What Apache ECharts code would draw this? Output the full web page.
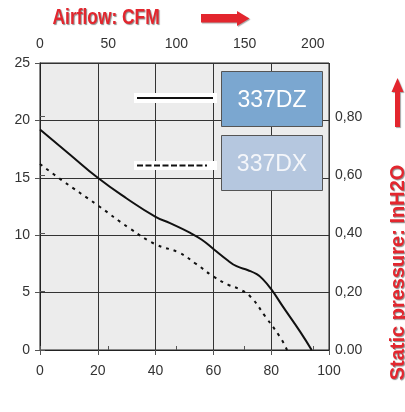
<!DOCTYPE html>
<html><head><meta charset="utf-8">
<script src="https://cdn.jsdelivr.net/npm/echarts@6/dist/echarts.min.js"></script>
<style>html,body{margin:0;padding:0;background:#fff}#c{width:405px;height:412px}</style>
</head><body><div id="c"></div>
<script>
// Bottom axis: airflow l/s ; left axis: mmH2O
const flowTicks = [0, 20, 40, 60, 80, 100];
const cfmTicks = [0, 50, 100, 150, 200];
const pressTicks = [0, 5, 10, 15, 20, 25];
const inH2OLabels = ['0.00', '0,20', '0,40', '0,60', '0,80'];
const seriesNames = ['337DZ', '337DX'];
const dzFlow = [0, 10, 20, 30, 40, 45, 52, 56, 60, 65, 68, 72, 75, 77, 80, 84, 90, 94];
const dzPress = [19.2, 17.1, 15.0, 13.2, 11.6, 11.05, 10.2, 9.6, 8.8, 7.8, 7.3, 6.95, 6.6, 6.2, 5.3, 3.8, 1.6, 0];
const dxFlow = [0, 7.5, 20, 31, 40, 48, 54, 60, 65, 69, 73, 78, 83, 85.5];
const dxPress = [16.2, 14.8, 12.6, 10.6, 9.2, 8.5, 7.5, 6.4, 5.7, 5.3, 4.6, 2.9, 1.15, 0];

const CFM_MAX = 211.9;   // 100 l/s
const INH2O_MAX = 0.984; // 25 mmH2O

const chart = echarts.init(document.getElementById('c'), null, {renderer: 'canvas'});
const lblFont = {color: '#333', fontSize: 14, fontFamily: 'Liberation Sans, Arial, sans-serif'};
const zip = (a, b) => a.map((v, i) => [v, b[i]]);
const red = '#e3262e';
const tshadow = {textShadowColor: 'rgba(0,0,0,0.45)', textShadowOffsetX: 1, textShadowOffsetY: 1, textShadowBlur: 1};

chart.setOption({
  animation: false,
  grid: {left: 40, top: 63, right: 76, bottom: 62, show: true, backgroundColor: '#ececec', borderColor: '#222', borderWidth: 1},
  xAxis: [
    {type: 'value', position: 'bottom', min: flowTicks[0], max: flowTicks[flowTicks.length - 1], interval: 20,
     axisLine: {show: true, lineStyle: {color: '#222', width: 1}},
     axisTick: {show: true, length: 5, lineStyle: {color: '#555'}},
     axisLabel: Object.assign({margin: 14}, lblFont),
     splitLine: {show: true, lineStyle: {color: '#333', width: 1}}},
    {type: 'value', position: 'top', min: 0, max: CFM_MAX, interval: 50,
     axisLine: {show: true, lineStyle: {color: '#222', width: 1}},
     axisTick: {show: true, length: 4, lineStyle: {color: '#555'}},
     axisLabel: Object.assign({margin: 12, showMaxLabel: false,
        formatter: v => cfmTicks.indexOf(v) >= 0 ? String(v) : ''}, lblFont),
     splitLine: {show: false}}
  ],
  yAxis: [
    {type: 'value', position: 'left', min: pressTicks[0], max: pressTicks[pressTicks.length - 1], interval: 5,
     axisLine: {show: true, lineStyle: {color: '#888', width: 1.5}},
     axisTick: {show: true, length: 5, lineStyle: {color: '#555'}},
     axisLabel: Object.assign({margin: 10}, lblFont),
     splitLine: {show: true, lineStyle: {color: '#333', width: 1}}},
    {type: 'value', position: 'right', min: 0, max: INH2O_MAX, interval: 0.2,
     axisLine: {show: true, lineStyle: {color: '#222', width: 1}},
     axisTick: {show: true, length: 5, lineStyle: {color: '#555'}},
     axisLabel: Object.assign({margin: 6, showMaxLabel: false,
        formatter: v => { const i = Math.round(v / 0.2); return (Math.abs(v - i * 0.2) < 1e-6 && inH2OLabels[i]) ? inH2OLabels[i] : ''; }}, lblFont),
     splitLine: {show: false}}
  ],
  series: [
    {name: seriesNames[0], type: 'line', xAxisIndex: 0, yAxisIndex: 0, data: zip(dzFlow, dzPress),
     smooth: 0.5, showSymbol: false, lineStyle: {color: '#111', width: 2}, z: 5},
    {name: seriesNames[1], type: 'line', xAxisIndex: 0, yAxisIndex: 0, data: zip(dxFlow, dxPress),
     smooth: 0.45, showSymbol: false, lineStyle: {color: '#111', width: 2, type: [3, 5]}, z: 5}
  ],
  graphic: [
    // title top
    {type: 'text', x: 52.5, y: 18, scaleX: 0.79, z: 10,
     style: Object.assign({text: 'Airflow: CFM', fill: red, verticalAlign: 'middle', align: 'left',
             font: 'bold 22px "Liberation Sans", Arial, sans-serif'}, tshadow)},
    {type: 'polygon', z: 10, shape: {points: [[201, 14], [237, 14], [237, 11], [249.5, 18.5], [237, 26], [237, 22.5], [201, 22.5]]},
     style: {fill: red, shadowColor: 'rgba(0,0,0,0.35)', shadowOffsetX: 1, shadowOffsetY: 1, shadowBlur: 1}},
    // right title
    {type: 'text', x: 398.5, y: 272.5, rotation: Math.PI / 2, z: 10,
     style: Object.assign({text: 'Static pressure: InH2O', fill: red, align: 'center', verticalAlign: 'middle',
             font: 'bold 20px "Liberation Sans", Arial, sans-serif'}, tshadow)},
    {type: 'polygon', z: 10, shape: {points: [[395, 127], [395, 92], [391.5, 92], [397.5, 78], [403.5, 92], [400, 92], [400, 127]]},
     style: {fill: red, shadowColor: 'rgba(0,0,0,0.35)', shadowOffsetX: 1, shadowOffsetY: 1, shadowBlur: 1}},
    // legend samples
    {type: 'rect', z: 10, shape: {x: 134, y: 93, width: 83, height: 10}, style: {fill: '#fff'}},
    {type: 'line', z: 11, shape: {x1: 137, y1: 98, x2: 213, y2: 98}, style: {stroke: '#111', lineWidth: 2}},
    {type: 'rect', z: 10, shape: {x: 134, y: 161, width: 83, height: 9}, style: {fill: '#fff'}},
    {type: 'line', z: 11, shape: {x1: 137, y1: 165.5, x2: 207, y2: 165.5}, style: {stroke: '#111', lineWidth: 2, lineDash: [6, 2.5]}},
    // legend boxes
    {type: 'rect', z: 10, shape: {x: 221.5, y: 71.5, width: 101, height: 55}, style: {fill: '#7ba7d0', stroke: '#555', lineWidth: 1}},
    {type: 'text', z: 11, x: 272, y: 101, style: {text: seriesNames[0], fill: '#fff', align: 'center', verticalAlign: 'middle',
      font: '23px "Liberation Sans", Arial, sans-serif'}},
    {type: 'rect', z: 10, shape: {x: 221.5, y: 135.5, width: 101, height: 55}, style: {fill: '#b5c7df', stroke: '#555', lineWidth: 1}},
    {type: 'text', z: 11, x: 272, y: 165, style: {text: seriesNames[1], fill: '#f4f6fa', align: 'center', verticalAlign: 'middle',
      font: '23px "Liberation Sans", Arial, sans-serif'}}
  ]
});
</script></body></html>
